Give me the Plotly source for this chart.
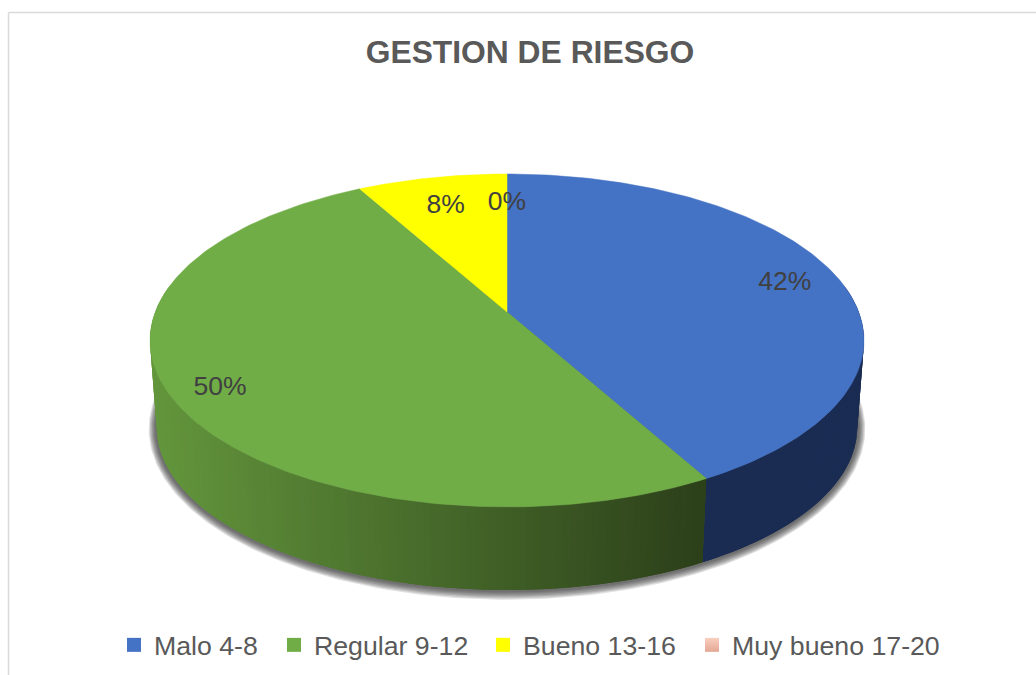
import numpy as np
import plotly.graph_objects as go

# ---- data ----
categories = ["Malo 4-8", "Regular 9-12", "Bueno 13-16", "Muy bueno 17-20"]
values = [42, 50, 8, 0]
labels = ["42%", "50%", "8%", "0%"]
title_text = "GESTION DE RIESGO"

# ---- styles ----
top_colors = ["#4472c4", "#70ad47", "#ffff00", "#f4bfa9"]
side_left = [(26, 44, 82), (99, 150, 60), (120, 120, 0), (140, 100, 80)]
side_right = [(26, 44, 82), (44, 64, 26), (120, 120, 0), (140, 100, 80)]
label_r = [0.845, 0.865, 0.792, 0.793]
LABEL_DY = 4.0
legend_left = [114, 274, 483, 692]

# ---- projection of the tilted disc into the page (axis units = pixels) ----
CX, K = 507.0, 0.171
TOP = dict(ay=312.0, R=351.7, H=161.6)
BOT = dict(ay=399.8, R=345.0, H=157.7)


def proj(t, plane, r=1.0, grow=0.0):
    u, v = np.sin(t) * r, np.cos(t) * r
    s = 1.0 / (1.0 + K * v)
    R = plane["R"] + grow
    H = plane["H"] + grow
    return CX + R * u * s, plane["ay"] - H * v * s


fracs = np.array(values, dtype=float) / sum(values)
edges = np.concatenate([[0], np.cumsum(fracs)]) * 2 * np.pi

fig = go.Figure()


def poly(x, y, color, width=0.0):
    fig.add_trace(go.Scatter(x=x, y=y, mode="lines", fill="toself", fillcolor=color,
                             line=dict(color=color, width=width), hoverinfo="skip",
                             showlegend=False))


# soft shadow under the pie
full = np.linspace(0, 2 * np.pi, 361)
for g in [7, 6, 5, 4, 3, 2, 1]:
    sx, sy = proj(full, BOT, grow=g + 1)
    fig.add_trace(go.Scatter(x=sx, y=sy, mode="lines", fill="toself",
                             fillcolor="rgba(50,50,50,0.15)", line=dict(width=0),
                             hoverinfo="skip", showlegend=False))

# side wall: thin overlapping bands painted back to front
lo_vis, hi_vis = np.radians(80), np.radians(280)
for i in range(len(values)):
    a, b = max(edges[i], lo_vis), min(edges[i + 1], hi_vis)
    if b <= a:
        continue
    n = max(2, int((b - a) / np.radians(1.0)))
    steps = np.linspace(a, b, n + 1)
    order = range(n) if b <= np.pi else range(n - 1, -1, -1)
    for j in order:
        seg = np.linspace(steps[j], steps[min(j + 2, n)], 4) if b <= np.pi else np.linspace(steps[max(j - 1, 0)], steps[j + 1], 4)
        tx, ty = proj(seg, TOP)
        bx, by = proj(seg, BOT)
        xm = (bx[0] + bx[-1]) / 2
        f = np.clip((xm - 158) / (700 - 158), 0, 1)
        c = [round(side_left[i][k] + (side_right[i][k] - side_left[i][k]) * f) for k in range(3)]
        poly(np.r_[tx, bx[::-1], tx[0]], np.r_[ty, by[::-1], ty[0]], f"rgb({c[0]},{c[1]},{c[2]})")

# top face
for i in range(len(values)):
    if values[i] == 0:
        continue
    seg = np.linspace(edges[i], edges[i + 1], 181)
    x, y = proj(seg, TOP)
    poly(np.r_[CX, x, CX], np.r_[TOP["ay"], y, TOP["ay"]], top_colors[i], width=0.5)

# value labels
mids = (edges[:-1] + edges[1:]) / 2
lx, ly = [], []
for i in range(len(values)):
    px, py = proj(np.array([mids[i]]), TOP, r=label_r[i])
    lx.append(px[0])
    ly.append(py[0] + LABEL_DY)
fig.add_trace(go.Scatter(x=lx, y=ly, mode="text", text=labels, hoverinfo="skip", showlegend=False,
                         textfont=dict(family="Liberation Sans, Arial", size=26.5, color="#404040")))

# legend: one native single-entry legend per category, placed as in the reference
legend_ids = ["legend", "legend2", "legend3", "legend4"]
legend_layout = {}
for name, col, lid, left in zip(categories, top_colors, legend_ids, legend_left):
    marker = dict(symbol="square", size=14, color=col)
    if name.startswith("Muy"):
        marker["color"] = "#f9cfbf"
        marker["gradient"] = dict(type="vertical", color="#e3a893")
    fig.add_trace(go.Scatter(x=[None], y=[None], mode="markers", name=name, legend=lid, marker=marker))
    legend_layout[lid] = dict(orientation="h", x=left / 1036, xanchor="left", y=1 - 645 / 675, yanchor="middle",
                              font=dict(family="Liberation Sans, Arial", size=26.7, color="#595959"),
                              bgcolor="rgba(0,0,0,0)")

fig.update_layout(
    width=1036, height=675, margin=dict(l=0, r=0, t=0, b=0),
    paper_bgcolor="white", plot_bgcolor="white",
    title=dict(text=f"<b>{title_text}</b>", x=530 / 1036, xanchor="center", y=1 - 52 / 675, yanchor="middle",
               font=dict(family="Liberation Sans, Arial", size=31.8, color="#595959")),
    xaxis=dict(range=[0, 1036], visible=False, fixedrange=True),
    yaxis=dict(range=[675, 0], visible=False, fixedrange=True),
    shapes=[
        dict(type="line", xref="paper", yref="paper", x0=8.5 / 1036, x1=1, y0=1 - 12.5 / 675, y1=1 - 12.5 / 675,
             line=dict(color="#d9d9d9", width=1.5)),
        dict(type="line", xref="paper", yref="paper", x0=8.5 / 1036, x1=8.5 / 1036, y0=0, y1=1 - 12.5 / 675,
             line=dict(color="#d9d9d9", width=1.5)),
    ],
    **legend_layout,
)

fig.write_html("out.html", post_script="document.body.style.margin='0';document.body.style.overflow='hidden';",
               config=dict(displayModeBar=False))
